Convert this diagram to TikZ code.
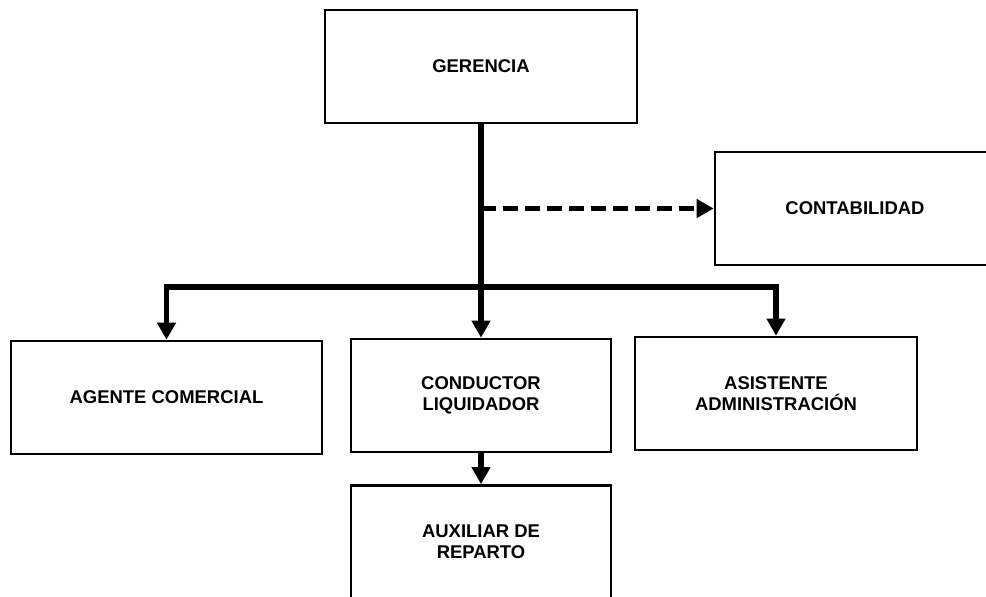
\documentclass[tikz,border=0pt]{standalone}
\usepackage{fontspec}
\setmainfont{Liberation Sans}
\usepackage{tikz}
\usetikzlibrary{arrows.meta, positioning, calc}

\begin{document}
\begin{tikzpicture}[>={Triangle[length=0.34cm, width=0.36cm]},
  cargo/.style={draw, line width=1.5pt, minimum height=2.26cm, inner sep=0pt,
    align=center, font=\fontsize{10.5}{12.2}\selectfont\bfseries},
  linea/.style={line width=3.1pt, ->},
  apoyo/.style={line width=2.8pt, dash pattern=on 0.3cm off 0.14cm, ->}]
  % Marco (la imagen corta las cajas de los bordes)
  \clip (0,0) rectangle (19.72,-11.92);

  % Cajas
  \node[cargo, minimum width=6.24cm] (ger) at (9.62,-1.33) {GERENCIA};
  \node[cargo, minimum width=5.6cm] (cont) at (17.10,-4.17) {CONTABILIDAD};
  \node[cargo, minimum width=6.22cm] (agente) at (3.33,-7.95) {AGENTE COMERCIAL};
  \node[cargo, minimum width=5.2cm] (cond) at (9.62,-7.91) {CONDUCTOR\\LIQUIDADOR};
  \node[cargo, minimum width=5.64cm] (asist) at (15.52,-7.87) {ASISTENTE\\ADMINISTRACIÓN};
  \node[cargo, minimum width=5.2cm] (aux) at (9.62,-10.84) {AUXILIAR DE\\REPARTO};

  % Lineas de mando
  \coordinate (bus) at (0,-5.74);
  \draw[linea] (ger.south) -- (cond.north);
  \draw[linea] (ger.south |- bus) -| (agente.north);
  \draw[linea] (ger.south |- bus) -| (asist.north);
  \draw[apoyo] (ger.south |- cont.west) -- (cont.west);
  \draw[linea] (cond.south) -- (aux.north);
\end{tikzpicture}
\end{document}
